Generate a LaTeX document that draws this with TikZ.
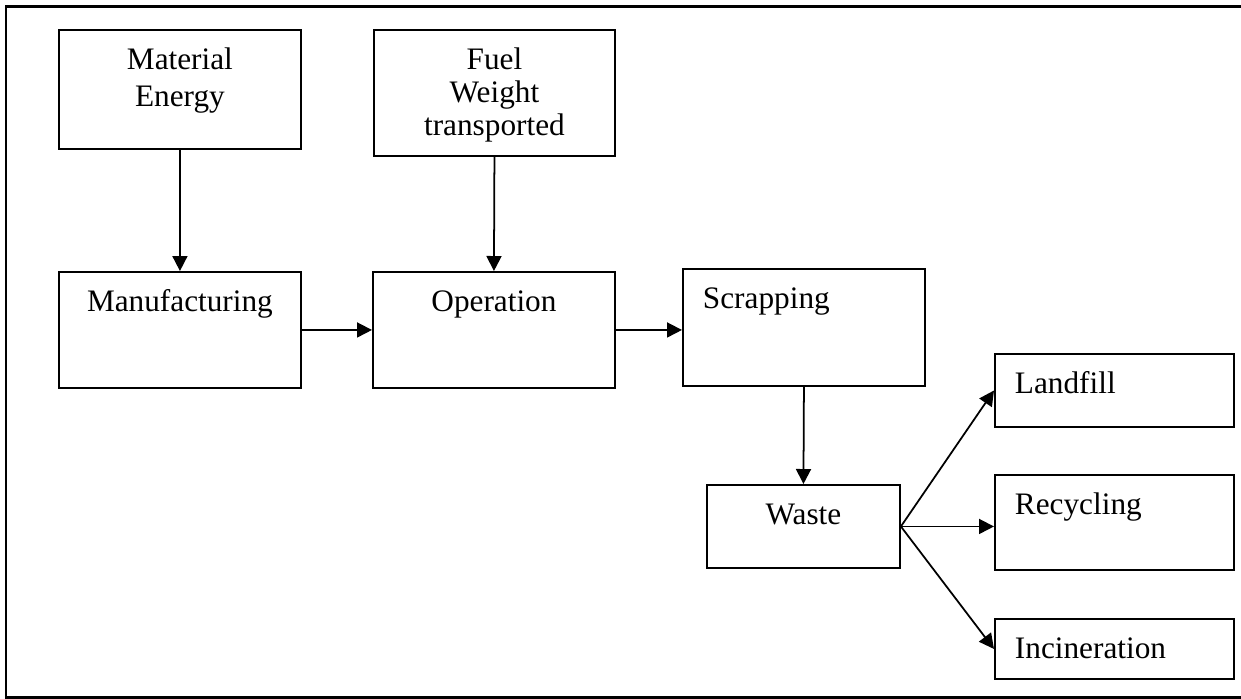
\documentclass[tikz,border=0pt]{standalone}
\usepackage{fontspec}
\setmainfont{Liberation Serif}
\usetikzlibrary{arrows.meta}

\begin{document}
\begin{tikzpicture}[
    x=0.02cm, y=-0.02cm,
    frame/.style={line width=1.7pt},
    box/.style={rectangle, draw, line width=1.1pt, anchor=north west, inner xsep=0.4cm, inner ysep=0pt, text height=0.8cm, font=\fontsize{17.8}{20.9}\selectfont},
    centred/.style={box, align=center},
    lefted/.style={box, align=left},
    arrow/.style={-{Triangle[length=0.3cm, width=0.3cm]}, line width=1pt}
]

\useasboundingbox (0,0) rectangle (1241,698);

% Outer frame (its right side runs off the page)
\draw[frame] (1260,6) -- (6,6) -- (6,697) -- (1260,697);

% Inputs: top row
\node[centred, text width=4.04cm, text depth=1.58cm] (material) at (58,29) {Material\\Energy};
\node[centred, text width=4.02cm, text depth=1.72cm, font=\fontsize{17.8}{18.7}\selectfont] (fuel) at (373,29) {Fuel\\Weight\\transported};

% Life cycle stages
\node[centred, text width=4.04cm, text depth=1.52cm] (manufacturing) at (58,271) {Manufacturing};
\node[centred, text width=4.04cm, text depth=1.52cm] (operation) at (372,271) {Operation};
\node[lefted, text width=4.04cm, text depth=1.54cm] (scrapping) at (682,268) {Scrapping};
\node[centred, text width=3.06cm, text depth=0.86cm] (waste) at (706,484) {Waste};

% Waste routes
\node[lefted, text width=3.98cm, text depth=0.66cm] (landfill) at (994,353) {Landfill};
\node[lefted, text width=3.98cm, text depth=1.10cm] (recycling) at (994,474) {Recycling};
\node[lefted, text width=3.98cm, text depth=0.40cm] (incineration) at (994,618) {Incineration};

% Arrows
\draw[arrow] (material.south) -- (manufacturing.north);
\draw[arrow] (fuel.south) -- (operation.north);
\draw[arrow] (manufacturing.east) -- (operation.west);
\draw[arrow] (operation.east) -- (operation.east -| scrapping.west);
\draw[arrow] (scrapping.south) -- (waste.north);
\draw[arrow] (waste.east) -- (landfill.west);
\draw[arrow] (waste.east) -- (waste.east -| recycling.west);
\draw[arrow] (waste.east) -- (incineration.west);

\end{tikzpicture}
\end{document}
